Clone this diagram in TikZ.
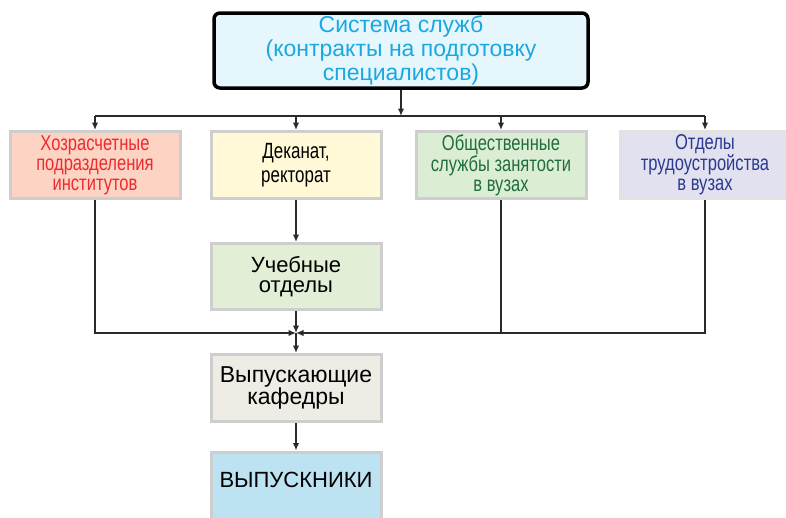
\documentclass[tikz,border=0pt]{standalone}
\usepackage{fontspec}
\setmainfont{Liberation Sans}
\newfontfamily\condfont{Liberation Sans}[FakeStretch=0.77]
\usetikzlibrary{arrows.meta}
\definecolor{topfill}{HTML}{E5F6FD}
\definecolor{toptext}{HTML}{1BA8E0}
\definecolor{fillA}{HTML}{FDD3C3}
\definecolor{textA}{HTML}{EE2A2E}
\definecolor{fillB}{HTML}{FFF9D8}
\definecolor{fillC}{HTML}{DCEDD6}
\definecolor{textC}{HTML}{1F6E3A}
\definecolor{fillD}{HTML}{E1E1F0}
\definecolor{textD}{HTML}{2B3990}
\definecolor{fillU}{HTML}{E2EED5}
\definecolor{fillV}{HTML}{EEECE5}
\definecolor{fillG}{HTML}{BDE3F2}
\definecolor{boxborder}{HTML}{CECECE}
\definecolor{boxborderlight}{HTML}{E2E2E2}
\definecolor{linecol}{HTML}{2A2A2A}
\begin{document}
\begin{tikzpicture}[x=1pt,y=-1pt,
  topbox/.style={draw=black, line width=3.5pt, rounded corners=6pt, fill=topfill,
    minimum width=374pt, minimum height=75pt, inner sep=0pt, align=center,
    text=toptext, font=\fontsize{23}{24}\selectfont},
  unitbox/.style={draw=boxborder, line width=3pt, minimum width=170pt,
    minimum height=67pt, inner sep=0pt, align=center},
  condtext/.style={font=\condfont\fontsize{21.5}{20}\selectfont},
  conn/.style={draw=linecol, line width=1.4pt},
  arr/.style={conn, -{Latex[length=7.5pt,width=6.5pt]}}
]
\useasboundingbox (0,0) rectangle (786,517);
\begin{scope}
\clip (0,0) rectangle (786,517);

\node[topbox] (top) at (401,50.5) {Система служб\\(контракты на подготовку\\специалистов)};

\node[unitbox, condtext, fill=fillA, text=textA] (b1) at (95,165)
  {Хозрасчетные\\подразделения\\институтов};
\node[unitbox, fill=fillB, text=black, font=\condfont\fontsize{22}{24}\selectfont] (b2) at (296,165)
  {Деканат,\\ректорат};
\node[unitbox, condtext, fill=fillC, text=textC] (b3) at (501,165)
  {Общественные\\службы занятости\\в вузах};
\node[unitbox, condtext, draw=boxborderlight, fill=fillD, text=textD] (b4) at (705,165)
  {Отделы\\трудоустройства\\в вузах};

\node[unitbox, fill=fillU, font=\fontsize{22}{20}\selectfont, minimum height=66pt] (uch) at (296,276.5)
  {Учебные\\отделы};
\node[unitbox, fill=fillV, font=\fontsize{23}{21}\selectfont] (vyp) at (296,388)
  {Выпускающие\\кафедры};
\node[unitbox, fill=fillG, font=\fontsize{22}{24}\selectfont, minimum height=70pt,
  text height=27pt, text depth=27pt] (grad) at (296,487)
  {ВЫПУСКНИКИ};

\coordinate (H) at (401,116);
\coordinate (J) at (296,333);

% top distribution
\draw[arr] (top.south) -- (H);
\draw[conn] (b1.north |- H) -- (b4.north |- H);
\draw[arr] (b1.north |- H) -- (b1.north);
\draw[arr] (b2.north |- H) -- (b2.north);
\draw[arr] (b3.north |- H) -- (b3.north);
\draw[arr] (b4.north |- H) -- (b4.north);

% vertical chain
\draw[arr] (b2.south) -- (uch.north);
\draw[arr] (uch.south) -- (J);
\draw[arr] (b1.south) |- (J);
\draw[arr] (b4.south) |- (J);
\draw[conn] (b3.south) -- (b3.south |- J);
\draw[arr] (J) -- (vyp.north);
\draw[arr] (vyp.south) -- (grad.north);
\end{scope}
\end{tikzpicture}
\end{document}
